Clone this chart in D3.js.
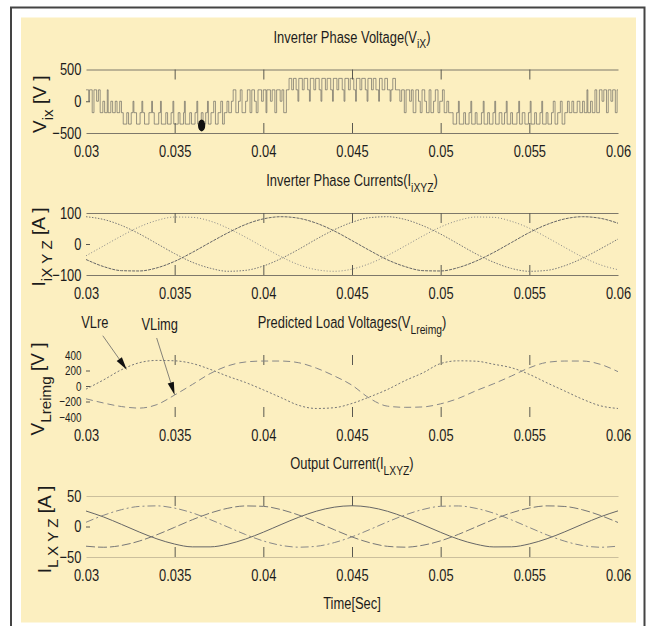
<!DOCTYPE html>
<html>
<head>
<meta charset="utf-8">
<script src="https://cdnjs.cloudflare.com/ajax/libs/d3/7.8.5/d3.min.js"></script>
<style>
  body { margin: 0; background: #fff; }
  svg { display: block; font-family: "Liberation Sans", Arial, Helvetica, sans-serif; }
</style>
</head>
<body>
<svg id="chart" width="646" height="626"></svg>
<script>
// shared time axis (seconds) and sample grid (ms)
const xTicks = [0.03, 0.035, 0.04, 0.045, 0.05, 0.055, 0.06];
const timeMs = [30, 31, 32, 33, 34, 35, 36, 37, 38, 39, 40, 41, 42, 43, 44, 45,
                46, 47, 48, 49, 50, 51, 52, 53, 54, 55, 56, 57, 58, 59, 60];

// panel 1: inverter phase voltage, switching steps [ms, V]
const vixTicks = [-500, 0, 500];
const vixSteps = [
  [30.0, 180], [30.15, 0], [30.2, 180], [30.35, -180], [30.45, 180], [30.6, 0], [30.7, 180],
  [30.8, -180], [30.95, 0], [31.05, -180], [31.2, 180], [31.25, -180], [31.4, 0], [31.5, -180],
  [31.65, 0], [31.75, -180], [31.9, 0],
  [32.0, -180], [32.1, -360], [32.3, -180], [32.4, -360], [32.55, -180], [32.65, 0], [32.7, -180],
  [32.85, -360], [33.05, -180], [33.15, 0], [33.2, -180], [33.3, -360], [33.55, -180], [33.7, 0],
  [33.75, -180], [33.85, -360], [34.1, -180], [34.2, 0], [34.25, -360], [34.5, -180], [34.6, -360],
  [34.8, -180], [34.9, 0], [34.95, -360], [35.2, -180], [35.3, -360], [35.5, -180], [35.55, 0],
  [35.6, -360], [35.85, -180], [35.95, -360], [36.15, -180], [36.25, 0], [36.3, -360], [36.5, -180],
  [36.6, -360], [36.75, -180], [36.85, 0], [36.9, -360], [37.05, -180], [37.2, 0], [37.3, -360],
  [37.45, -180], [37.6, 0], [37.7, -360], [37.8, -180], [37.95, 0], [38.05, -180],
  [38.2, 0], [38.3, 180], [38.45, -180], [38.6, 0], [38.7, 180], [38.8, -180], [39.0, 0],
  [39.1, 180], [39.25, -180], [39.35, 180], [39.5, 0], [39.6, -180], [39.7, 180], [39.9, 0],
  [40.0, 180], [40.15, -180], [40.2, 180], [40.4, 0], [40.5, 180], [40.65, -180], [40.75, 180],
  [40.95, 0], [41.05, 180], [41.15, -180],
  [41.3, 180], [41.45, 360], [41.6, 180], [41.7, 360], [41.85, 180], [41.95, 0], [42.0, 360],
  [42.2, 180], [42.3, 360], [42.5, 180], [42.6, 0], [42.65, 360], [42.85, 180], [42.95, 360],
  [43.15, 180], [43.25, 0], [43.3, 360], [43.5, 180], [43.6, 360], [43.8, 180], [43.9, 0],
  [43.95, 360], [44.15, 180], [44.25, 360], [44.45, 180], [44.55, 0], [44.6, 360], [44.8, 180],
  [44.9, 360], [45.1, 180], [45.2, 0], [45.25, 360], [45.45, 180], [45.55, 360], [45.75, 180],
  [45.85, 0], [45.9, 360], [46.1, 180], [46.2, 360], [46.35, 180], [46.5, 0], [46.55, 360],
  [46.7, 180], [46.85, 360], [47.0, 180], [47.15, 0], [47.2, 180], [47.3, 360], [47.45, 180],
  [47.7, 0], [47.8, 180], [47.95, -180], [48.05, 180], [48.25, 0], [48.35, 180], [48.45, -180],
  [48.6, 180], [48.75, 0], [48.85, -180], [48.95, 180], [49.1, 0], [49.2, -180], [49.35, 180],
  [49.45, -180], [49.6, 0], [49.7, 180], [49.85, -180], [49.95, 0], [50.1, 180], [50.2, -180],
  [50.35, 0], [50.45, -180],
  [50.6, -180], [50.7, -360], [50.9, -180], [51.0, 0], [51.05, -360], [51.3, -180], [51.4, -360],
  [51.6, -180], [51.7, 0], [51.75, -360], [51.95, -180], [52.05, -360], [52.3, -180], [52.4, 0],
  [52.45, -360], [52.65, -180], [52.75, -360], [52.95, -180], [53.05, 0], [53.1, -360], [53.3, -180],
  [53.45, -360], [53.6, -180], [53.7, 0], [53.75, -360], [53.95, -180], [54.05, -360], [54.3, -180],
  [54.4, 0], [54.45, -360], [54.6, -180], [54.75, -360], [54.95, -180], [55.05, 0], [55.1, -360],
  [55.3, -180], [55.4, -360], [55.6, -180], [55.7, 0], [55.75, -360], [55.95, -180], [56.05, -360],
  [56.25, -180], [56.35, 0], [56.45, -360], [56.6, -180], [56.75, 0], [56.85, -360], [57.0, -180],
  [57.15, 0], [57.25, -180], [57.4, 0], [57.5, -180],
  [57.7, 0], [57.85, -180], [58.0, 0], [58.1, -180], [58.25, 180], [58.3, -180], [58.45, 0],
  [58.55, -180], [58.7, 180], [58.8, -180], [58.95, 180], [59.1, 0], [59.2, 180], [59.35, -180],
  [59.45, 180], [59.6, 0], [59.7, 180], [59.85, -180], [59.95, 180], [60.0, 180]
];
const vixDot = [36.52, -380];

// panel 2: inverter phase currents (A)
const iiTicks = [-100, 0, 100];
const iiX = [88, 79, 60, 33, 1, -31, -59, -78, -88, -85, -71, -47, -17, 16, 46, 70,
             85, 88, 79, 59, 32, 0, -32, -59, -79, -88, -85, -70, -46, -16, 16];
const iiY = [-50, -73, -86, -87, -77, -56, -27, 5, 36, 63, 81, 88, 83, 67, 42, 11,
             -21, -51, -73, -86, -87, -76, -55, -27, 5, 37, 63, 81, 88, 83, 67];
const iiZ = [-38, -6, 26, 55, 76, 87, 86, 74, 51, 22, -10, -41, -67, -83, -88, -81,
             -63, -37, -6, 26, 55, 76, 87, 86, 73, 51, 21, -11, -42, -67, -83];

// panel 3: predicted load voltages (V)
const vlTicks = [-400, -200, 0, 200, 400];
const vlRe = [-40, 80, 210, 300, 330, 325, 290, 215, 125, 45, -50, -150, -250, -290, -280, -225,
              -140, -45, 70, 170, 290, 325, 320, 280, 235, 150, 40, -65, -170, -255, -290];
const vlImg = [-165, -220, -265, -285, -240, -116, 20, 160, 260, 310, 322, 322, 300, 230, 130, 10,
               -160, -260, -275, -270, -230, -160, -60, 30, 130, 235, 305, 322, 322, 280, 185];
const vlNotes = [["VLre", 32.3, 210], ["VLimg", 35.0, -116]];

// panel 4: output currents (A)
const ilTicks = [-50, 0, 50];
const ilX = [25.4, 15.5, 3.5, -9.0, -20.3, -28.8, -33.4, -33.4, -29.0, -20.5, -9.3, 3.2, 15.2, 25.2, 31.7, 34.0,
             31.6, 25.0, 14.9, 2.8, -9.6, -20.8, -29.1, -33.5, -33.3, -28.6, -20.0, -8.7, 3.8, 15.8, 25.6];
const ilY = [6.9, 18.5, 27.6, 32.9, 33.8, 30.1, 22.3, 11.4, -0.9, -13.2, -23.7, -30.9, -33.9, -32.4, -26.4, -16.9,
             -5.0, 7.5, 19.0, 27.9, 33.1, 33.7, 29.7, 21.8, 10.8, -1.6, -13.8, -24.1, -31.2, -34.0, -32.2];
const ilZ = [-32.3, -34.0, -31.1, -23.9, -13.5, -1.3, 11.1, 22.0, 29.9, 33.7, 33.0, 27.7, 18.7, 7.2, -5.3, -17.1,
             -26.6, -32.5, -33.9, -30.7, -23.5, -12.9, -0.6, 11.7, 22.5, 30.2, 33.8, 32.8, 27.4, 18.2, 6.6];

const svg = d3.select("#chart");
const x = d3.scaleLinear().domain([0.03, 0.06]).range([86, 618]);
const midX = (x.range()[0] + x.range()[1]) / 2;
const ink = "#1c1c1c";

// page background, yellow panel and frame
svg.append("rect").attr("width", 646).attr("height", 626).attr("fill", "#fff");
svg.append("rect").attr("x", 21).attr("y", 17.5).attr("width", 615).attr("height", 605).attr("fill", "#fcefc0");
svg.append("path").attr("d", "M11,626V7.5H644.5V626").attr("fill", "none").attr("stroke", "#444").attr("stroke-width", 2);

function pairs(values) {
    return timeMs.map((t, i) => [t, values[i]]);
}

function drawText(parts, px, py, size, sx) {
    // parts: [text, isSubscript]
    let g = svg.append("g").attr("transform", `translate(${px},${py}) scale(${sx},1)`);
    let t = g.append("text").attr("text-anchor", "middle").attr("font-size", size).attr("fill", ink);
    let down = false;
    parts.forEach(function(p) {
        let s = t.append("tspan").text(p[0]);
        if (p[1] && !down) { s.attr("dy", size * 0.35).attr("font-size", size * 0.8); down = true; }
        else if (p[1]) { s.attr("font-size", size * 0.8); }
        else if (down) { s.attr("dy", -size * 0.35); down = false; }
    });
    return g;
}

function drawPanel(p) {
    let y = d3.scaleLinear().domain(p.domain).range([p.bottom, p.top]);
    let g = svg.append("g");
    let inner = xTicks.slice(1, -1);

    let bottom = g.append("g").attr("transform", `translate(0,${p.bottom})`)
        .call(d3.axisBottom(x).tickValues(xTicks).tickFormat(d => String(d))
            .tickSizeInner(-10).tickSizeOuter(0).tickPadding(12));
    let top = g.append("g").attr("transform", `translate(0,${p.top})`)
        .call(d3.axisTop(x).tickValues(inner).tickFormat("").tickSizeInner(-10).tickSizeOuter(0));
    let left = g.append("g").attr("transform", `translate(${x.range()[0]},0)`)
        .call(d3.axisLeft(y).tickValues(p.ticks).tickSizeInner(-4).tickSizeOuter(0).tickPadding(6));

    left.select(".domain").remove();
    [bottom, top].forEach(a => a.select(".domain").attr("stroke", p.frame || "none"));
    [bottom, top, left].forEach(a => a.selectAll(".tick line").attr("stroke", "#5a5850"));
    bottom.selectAll(".tick").filter(d => d === 0.03 || d === 0.06).select("line").remove();
    left.selectAll(".tick").filter(d => d === p.domain[0] || d === p.domain[1]).select("line").remove();
    bottom.selectAll(".tick text")
        .attr("font-size", 17).attr("fill", ink).attr("transform", "scale(0.76,1)");
    left.selectAll(".tick text")
        .attr("font-size", p.tickFont || 17).attr("fill", ink).attr("transform", "scale(0.76,1)");
    g.selectAll("g").attr("font-family", null);

    drawText(p.title, midX, p.top - 27, 17, 0.76);
    drawText(p.ylabel, 0, 0, 19, 1)
        .attr("transform", `translate(${p.labelX},${(p.top + p.bottom) / 2 + 3}) rotate(-90)`);

    p.series.forEach(function(s) {
        let line = d3.line()
            .curve(s.curve || d3.curveMonotoneX)
            .x(d => x(d[0] / 1000))
            .y(d => y(d[1]));
        g.append("path")
            .attr("d", line(s.data))
            .attr("fill", "none")
            .attr("stroke", s.color)
            .attr("stroke-width", s.width || 1)
            .attr("stroke-dasharray", s.dash || null)
            .attr("opacity", s.opacity || 1);
    });
    return y;
}

// Inverter Phase Voltage
const y1 = drawPanel({
    top: 69.5, bottom: 133, domain: [-500, 500], ticks: vixTicks, frame: "#7d786a", labelX: 46,
    title: [["Inverter Phase Voltage(V"], ["iX", true], [")"]],
    ylabel: [["V"], ["ix", true], [" [V ]"]],
    series: [{ data: vixSteps, curve: d3.curveStepAfter, color: "#555", width: 0.8, opacity: 0.75 }]
});
svg.append("ellipse")
    .attr("cx", x(vixDot[0] / 1000)).attr("cy", y1(vixDot[1]))
    .attr("rx", 3.6).attr("ry", 6).attr("fill", "#111");

// Inverter Phase Currents
drawPanel({
    top: 213, bottom: 275, domain: [-100, 100], ticks: iiTicks, frame: "#7d786a", labelX: 45,
    title: [["Inverter Phase Currents(I"], ["iXYZ", true], [")"]],
    ylabel: [["I"], ["iX Y Z", true], [" [A ]"]],
    series: [
        { data: pairs(iiX), color: "#777", dash: "1.5,1.5" },
        { data: pairs(iiY), color: "#666", dash: "3,1" },
        { data: pairs(iiZ), color: "#888", dash: "1,2" }
    ]
});

// Predicted Load Voltages
const y3 = drawPanel({
    top: 355, bottom: 417, domain: [-400, 400], ticks: vlTicks, labelX: 44, tickFont: 13,
    title: [["Predicted Load Voltages(V"], ["Lreimg", true], [")"]],
    ylabel: [["V"], ["Lreimg", true], [" [V ]"]],
    series: [
        { data: pairs(vlRe), color: "#777", dash: "2,2" },
        { data: pairs(vlImg), color: "#888", dash: "7,4" }
    ]
});

// arrows pointing at the two curves
const tails = [[-24, -34], [-18, -57]];
const textPos = [[-32, -42], [-15, -65]];
vlNotes.forEach(function(n, i) {
    let tx = x(n[1] / 1000), ty = y3(n[2]);
    let sx = tx + tails[i][0], sy = ty + tails[i][1];
    let ang = Math.atan2(ty - sy, tx - sx);
    let len = 13, half = 3.2;
    let bx = tx - len * Math.cos(ang), by = ty - len * Math.sin(ang);
    svg.append("line").attr("x1", sx).attr("y1", sy).attr("x2", bx).attr("y2", by)
        .attr("stroke", "#666").attr("stroke-width", 0.8);
    svg.append("path")
        .attr("d", `M${tx},${ty}L${bx - half * Math.sin(ang)},${by + half * Math.cos(ang)}` +
                   `L${bx + half * Math.sin(ang)},${by - half * Math.cos(ang)}Z`)
        .attr("fill", "#111");
    drawText([[n[0]]], tx + textPos[i][0], ty + textPos[i][1], 17, 0.76);
});

// Output Current
drawPanel({
    top: 496, bottom: 557, domain: [-50, 50], ticks: ilTicks, frame: "#cbbf9c", labelX: 51,
    title: [["Output Current(I"], ["LXYZ", true], [")"]],
    ylabel: [["I"], ["L X Y Z", true], [" [A ]"]],
    series: [
        { data: pairs(ilX), color: "#666" },
        { data: pairs(ilY), color: "#888", dash: "8,3,2,3" },
        { data: pairs(ilZ), color: "#777", dash: "9,3" }
    ]
});

drawText([["Time[Sec]"]], midX, 609, 17, 0.76);
</script>
</body>
</html>
